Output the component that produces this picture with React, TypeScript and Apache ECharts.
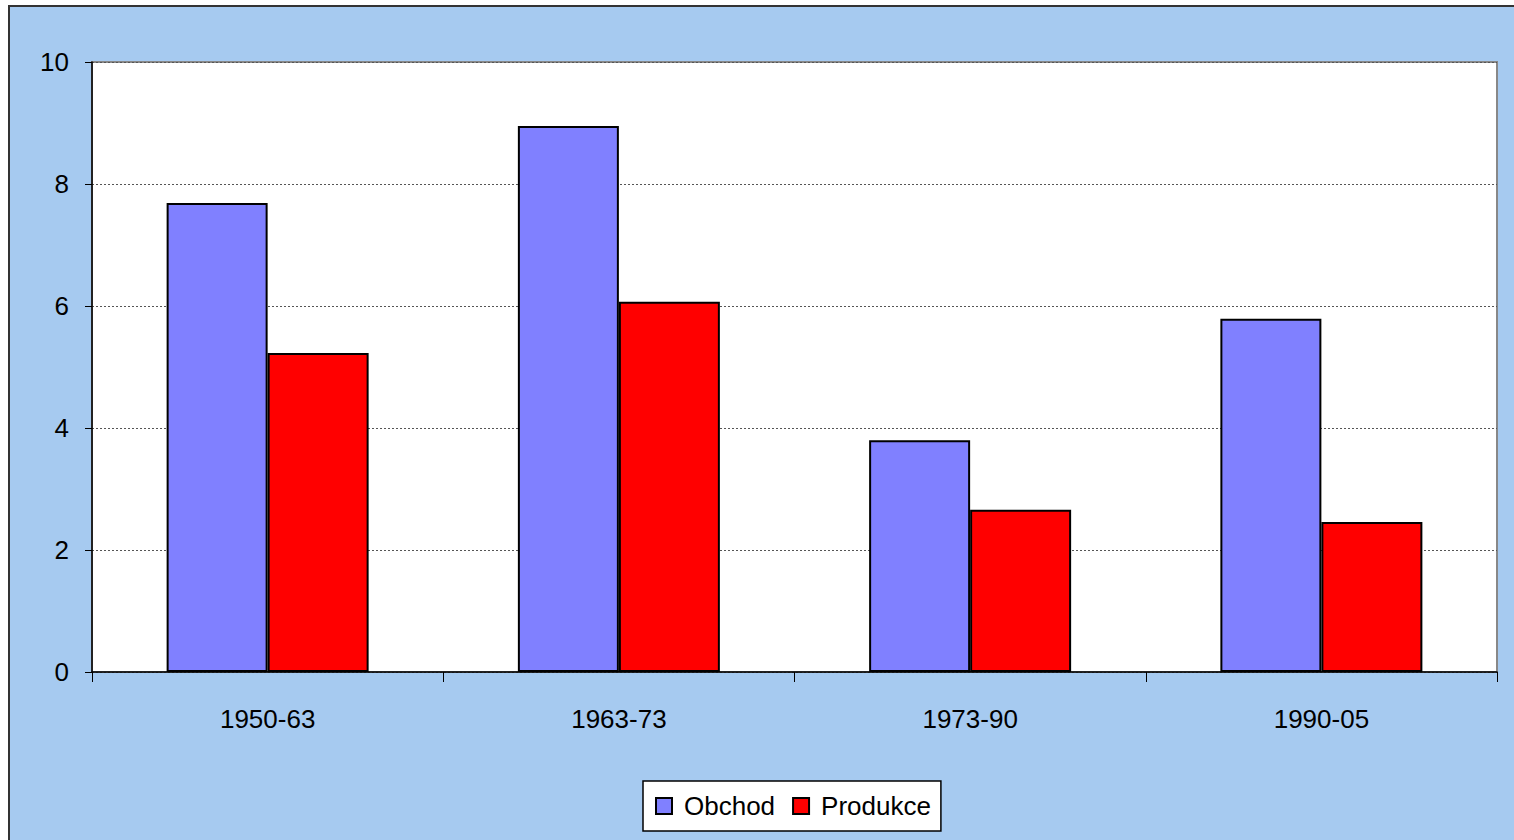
import React, { useEffect, useRef } from "react";
import * as echarts from "echarts";

const categories = ["1950-63", "1963-73", "1973-90", "1990-05"];
const obchod = [7.69, 8.95, 3.8, 5.79];
const produkce = [5.23, 6.07, 2.66, 2.46];

export default function App() {
  const ref = useRef<HTMLDivElement>(null);
  useEffect(() => {
    const chart = echarts.init(ref.current!, null, { renderer: "svg" });
    const font = "'Liberation Sans', Arial, sans-serif";
    chart.setOption({
      animation: false,
      textStyle: { fontFamily: font },
      graphic: [
        {
          type: "rect",
          z: -10,
          silent: true,
          shape: { x: 9, y: 6, width: 1520, height: 850 },
          style: { fill: "#A6CAF0", stroke: "#333333", lineWidth: 2 },
        },
      ],
      grid: {
        left: 92,
        top: 62,
        right: 17,
        bottom: 168,
        show: true,
        backgroundColor: "#ffffff",
        borderColor: "#888888",
        borderWidth: 2,
      },
      legend: {
        top: 781,
        left: 643,
        itemWidth: 16,
        itemHeight: 16,
        itemGap: 17,
        padding: [12, 10, 12, 12],
        backgroundColor: "#ffffff",
        borderColor: "#000000",
        borderWidth: 1.5,
        textStyle: {
          fontSize: 26,
          color: "#000",
          fontFamily: font,
          padding: [0, 0, 0, 7],
        },
        data: [
          { name: "Obchod", icon: "rect" },
          { name: "Produkce", icon: "rect" },
        ],
      },
      xAxis: {
        type: "category",
        data: categories,
        axisLine: { show: true, lineStyle: { color: "#000", width: 1.5 } },
        axisTick: { show: true, inside: false, length: 10, lineStyle: { color: "#000" } },
        axisLabel: { fontSize: 26, color: "#000", margin: 34, fontFamily: font },
        splitLine: { show: false },
      },
      yAxis: {
        type: "value",
        min: 0,
        max: 10,
        interval: 2,
        axisLine: { show: true, lineStyle: { color: "#000", width: 1.5 } },
        axisTick: { show: true, inside: false, length: 7, lineStyle: { color: "#000" } },
        axisLabel: { fontSize: 26, color: "#000", margin: 23, fontFamily: font },
        splitLine: { show: true, lineStyle: { color: "#555", type: [2, 2], width: 1 } },
      },
      series: [
        {
          name: "Obchod",
          type: "bar",
          data: obchod,
          barWidth: 101,
          barGap: "0%",
          itemStyle: { color: "#8080FF", borderColor: "#000", borderWidth: 2 },
        },
        {
          name: "Produkce",
          type: "bar",
          data: produkce,
          barWidth: 101,
          barGap: "0%",
          itemStyle: { color: "#FF0000", borderColor: "#000", borderWidth: 2 },
        },
      ],
    });
    return () => chart.dispose();
  }, []);
  return (
    <div
      ref={ref}
      style={{ position: "absolute", left: 0, top: 0, width: 1514, height: 840 }}
    />
  );
}
